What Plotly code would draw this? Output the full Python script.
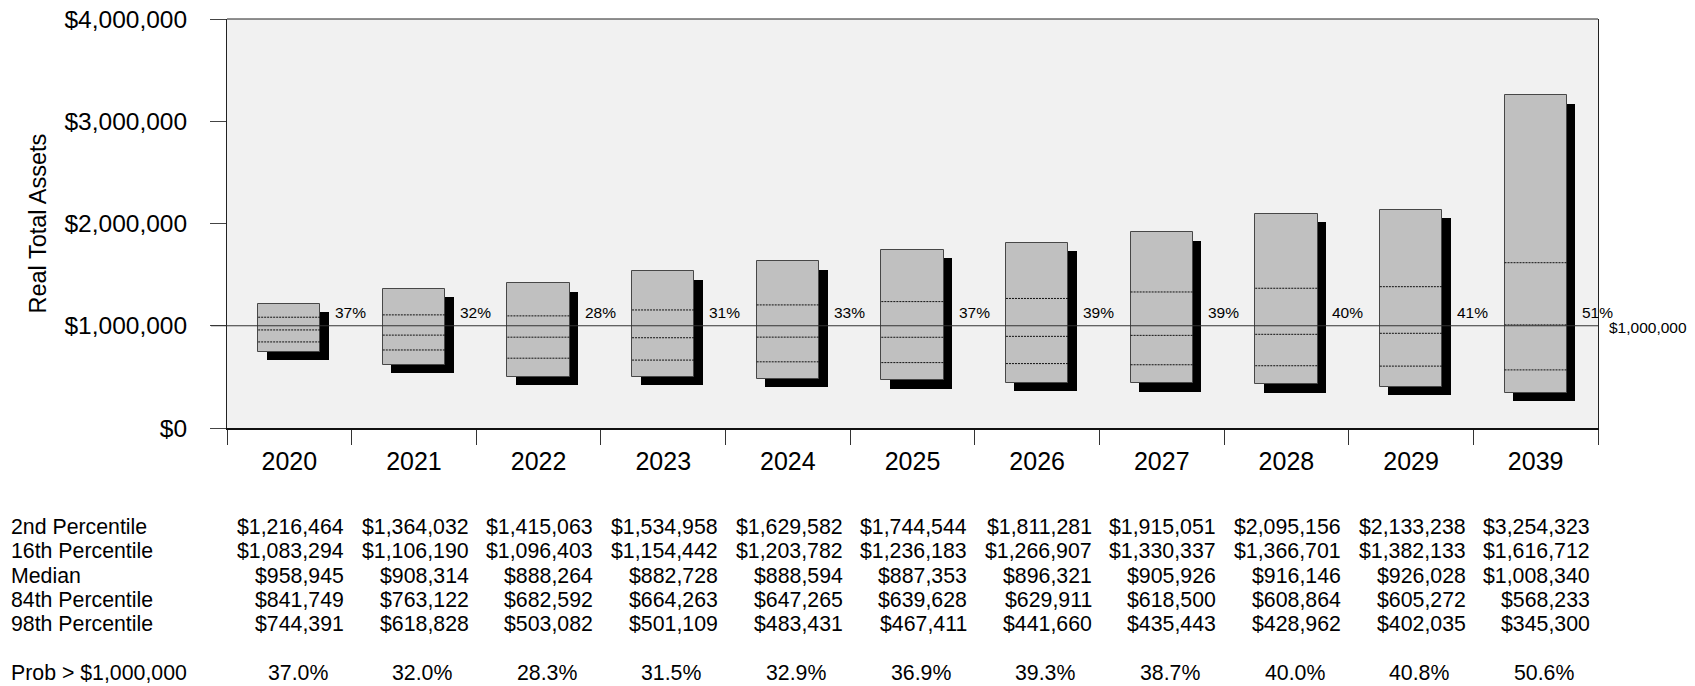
import numpy as np
import plotly.graph_objects as go

# ---------------- data ----------------
years = ["2020", "2021", "2022", "2023", "2024", "2025", "2026", "2027", "2028", "2029", "2039"]
p2 = [1216464, 1364032, 1415063, 1534958, 1629582, 1744544, 1811281, 1915051, 2095156, 2133238, 3254323]
p16 = [1083294, 1106190, 1096403, 1154442, 1203782, 1236183, 1266907, 1330337, 1366701, 1382133, 1616712]
p50 = [958945, 908314, 888264, 882728, 888594, 887353, 896321, 905926, 916146, 926028, 1008340]
p84 = [841749, 763122, 682592, 664263, 647265, 639628, 629911, 618500, 608864, 605272, 568233]
p98 = [744391, 618828, 503082, 501109, 483431, 467411, 441660, 435443, 428962, 402035, 345300]
prob = [37.0, 32.0, 28.3, 31.5, 32.9, 36.9, 39.3, 38.7, 40.0, 40.8, 50.6]
prob_short = ["37%", "32%", "28%", "31%", "33%", "37%", "39%", "39%", "40%", "41%", "51%"]
target = 1000000
y_tick_vals = [0, 1000000, 2000000, 3000000, 4000000]
y_tick_text = ["$0", "$1,000,000", "$2,000,000", "$3,000,000", "$4,000,000"]
row_labels = ["2nd Percentile", "16th Percentile", "Median", "84th Percentile", "98th Percentile"]
prob_row_label = "Prob > $1,000,000"
target_label = "$1,000,000"
y_title = "Real Total Assets"

# ---------------- geometry / style ----------------
W, H = 1695, 686
ML, MR, MT, MB = 227, 97, 19, 258
PW, PH = W - ML - MR, H - MT - MB
FONT = "Liberation Sans, Arial, sans-serif"
n = len(years)
idx = np.arange(n)
cat_px = PW / n
y_px = PH / 4000000.0

def py(px):  # pixel y -> paper y
    return (H - MB - px) / PH

def pxp(px):  # pixel x -> paper x
    return (px - ML) / PW

shadow_dx = 8.5 / cat_px
shadow_dy = 8.5 / y_px

a2, a16, a50, a84, a98 = (np.array(v, dtype=float) for v in (p2, p16, p50, p84, p98))

fig = go.Figure()

# shadows
fig.add_trace(go.Bar(x=idx + shadow_dx, base=a98 - shadow_dy, y=a2 - a98, width=0.5,
                     marker=dict(color="#000000", line=dict(width=0)),
                     hoverinfo="skip", showlegend=False))
# boxes
fig.add_trace(go.Bar(x=idx, base=a98, y=a2 - a98, width=0.5,
                     marker=dict(color="#c0c0c0", line=dict(color="#474747", width=1)),
                     hoverinfo="skip", showlegend=False))

# inner dotted lines (16th, median, 84th)
lx, ly = [], []
for arr in (a16, a50, a84):
    for i in range(n):
        lx += [i - 0.25, i + 0.25, None]
        ly += [arr[i], arr[i], None]
fig.add_trace(go.Scatter(x=lx, y=ly, mode="lines",
                         line=dict(color="#111111", width=1, dash="2px,1px"),
                         hoverinfo="skip", showlegend=False))

shapes = [
    dict(type="line", xref="paper", yref="y", x0=-16 / PW, x1=1, y0=target, y1=target,
         line=dict(color="#333333", width=1)),
    dict(type="line", xref="paper", yref="paper", x0=0, x1=1, y0=1, y1=1,
         line=dict(color="#222222", width=1)),
]

ann = []
# percent labels next to boxes
for i in range(n):
    ann.append(dict(x=i + 0.353, y=target, xref="x", yref="y", text=prob_short[i],
                    showarrow=False, xanchor="left", yanchor="middle", yshift=13,
                    font=dict(size=15.5, color="#000", family=FONT)))
# target label at right
ann.append(dict(x=pxp(1606.5), y=target, xref="paper", yref="y", text=target_label,
                showarrow=False, xanchor="left", yanchor="middle", yshift=-1.5,
                font=dict(size=15.5, color="#000", family=FONT)))
# y-axis title
ann.append(dict(x=pxp(37), y=0.5, xref="paper", yref="paper", text=y_title, textangle=-90,
                showarrow=False, xanchor="center", yanchor="middle",
                font=dict(size=23.5, color="#000", family=FONT)))

# table below
row_y = [527, 551.3, 575.6, 600, 624.3]
prob_y = 673.5
TF = dict(size=21.3, color="#000", family=FONT)
for r, (lab, arr) in enumerate(zip(row_labels, (p2, p16, p50, p84, p98))):
    ann.append(dict(x=pxp(8.5), y=py(row_y[r]), xref="paper", yref="paper", text=lab,
                    showarrow=False, xanchor="left", yanchor="middle", font=TF))
    for i in range(n):
        ann.append(dict(x=i + 0.455, y=py(row_y[r]), xref="x", yref="paper",
                        text="${:,.0f}".format(arr[i]), showarrow=False,
                        xanchor="right", yanchor="middle", font=TF))
ann.append(dict(x=pxp(8.5), y=py(prob_y), xref="paper", yref="paper", text=prob_row_label,
                showarrow=False, xanchor="left", yanchor="middle", font=TF))
for i in range(n):
    ann.append(dict(x=i + 0.066, y=py(prob_y), xref="x", yref="paper",
                    text="{:.1f}%".format(prob[i]), showarrow=False,
                    xanchor="center", yanchor="middle", font=TF))

fig.update_layout(
    width=W, height=H,
    margin=dict(l=ML, r=MR, t=MT, b=MB, autoexpand=False),
    paper_bgcolor="#ffffff", plot_bgcolor="#f1f1f1",
    barmode="overlay", bargap=0,
    font=dict(family=FONT, color="#000"),
    showlegend=False, hovermode=False,
    shapes=shapes, annotations=ann,
    xaxis=dict(range=[-0.5, n - 0.5], tickmode="array", tickvals=list(idx), ticktext=years,
               ticks="", showgrid=False, zeroline=False,
               showline=True, linecolor="#111111", linewidth=2,
               tickfont=dict(size=25, color="#000", family=FONT),
               ticklabelstandoff=10,
               minor=dict(tickmode="array", tickvals=list(np.arange(n + 1) - 0.5),
                          ticks="outside", ticklen=15, tickcolor="#333333", tickwidth=1,
                          showgrid=False)),
    yaxis=dict(range=[0, 4000000], tickmode="array", tickvals=y_tick_vals, ticktext=y_tick_text,
               ticks="outside", ticklen=16, tickcolor="#444444", tickwidth=1,
               showgrid=False, zeroline=False,
               showline=True, mirror=True, linecolor="#222222", linewidth=1,
               tickfont=dict(size=24.5, color="#000", family=FONT),
               ticklabelstandoff=18),
)

fig.write_html("out.html", config={"displayModeBar": False})
